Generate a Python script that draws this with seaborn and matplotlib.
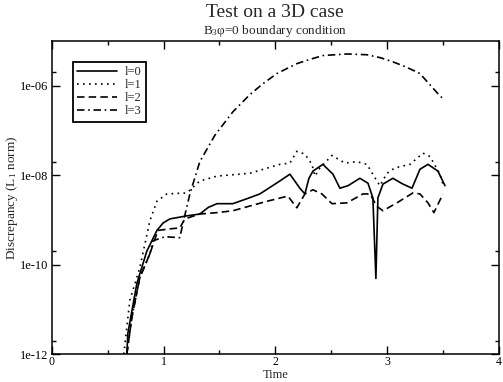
import numpy as np
import pandas as pd
import matplotlib
matplotlib.use("Agg")
import matplotlib.pyplot as plt
import seaborn as sns
from matplotlib.ticker import FixedLocator, FixedFormatter

# values (time, discrepancy)
t_l0 = [0.671, 0.680, 0.761, 0.850, 0.940, 0.995, 1.056, 1.208, 1.324, 1.400, 1.477, 1.620,
        1.750, 1.861, 2.040, 2.130, 2.219, 2.264, 2.300, 2.336, 2.425, 2.515, 2.577, 2.649,
        2.756, 2.828, 2.872, 2.899, 2.917, 2.962, 3.051, 3.141, 3.222, 3.293, 3.365, 3.454,
        3.517]
v_l0 = [1.0e-12, 2.9e-12, 3.8e-11, 2.0e-10, 5.8e-10, 8.5e-10, 1.05e-9, 1.23e-9, 1.35e-9,
        1.9e-9, 2.3e-9, 2.3e-9, 3.0e-9, 3.8e-9, 7.4e-9, 1.05e-8, 5.1e-9, 3.8e-9, 8.5e-9,
        1.23e-8, 1.74e-8, 1.05e-8, 5.1e-9, 5.8e-9, 8.5e-9, 6.6e-9, 3.1e-9, 4.9e-11, 3.1e-9,
        6.3e-9, 8.5e-9, 6.3e-9, 5.1e-9, 1.35e-8, 1.74e-8, 1.23e-8, 5.8e-9]

t_l1 = [0.644, 0.698, 0.787, 0.877, 0.940, 1.029, 1.208, 1.324, 1.477, 1.772, 2.040, 2.130,
        2.192, 2.264, 2.327, 2.354, 2.398, 2.506, 2.622, 2.729, 2.819, 2.908, 2.935, 2.998,
        3.069, 3.204, 3.320, 3.383, 3.472, 3.499]
v_l1 = [1.0e-12, 1.6e-11, 8.5e-11, 9.5e-10, 2.6e-9, 3.8e-9, 4.0e-9, 7.4e-9, 9.5e-9, 1.1e-8,
        1.74e-8, 1.86e-8, 3.4e-8, 2.95e-8, 1.74e-8, 9.5e-9, 1.45e-8, 2.75e-8, 1.86e-8, 2.0e-8,
        1.74e-8, 7.4e-9, 5.8e-9, 1.1e-8, 1.45e-8, 1.74e-8, 3.1e-8, 2.6e-8, 1.05e-8, 6.3e-9]

t_l2 = [0.671, 0.716, 0.787, 0.877, 0.949, 1.056, 1.145, 1.190, 1.324, 1.477, 1.620, 1.924,
        2.112, 2.192, 2.264, 2.336, 2.416, 2.506, 2.640, 2.783, 2.846, 2.908, 2.962, 3.087,
        3.230, 3.293, 3.365, 3.418, 3.499]
v_l2 = [1.0e-12, 6.6e-12, 5.1e-11, 1.74e-10, 5.8e-10, 6.3e-10, 6.6e-10, 1.05e-9, 1.35e-9,
        1.45e-9, 1.6e-9, 2.6e-9, 3.4e-9, 1.86e-9, 3.8e-9, 4.7e-9, 3.8e-9, 2.3e-9, 2.4e-9,
        3.8e-9, 3.8e-9, 2.0e-9, 1.6e-9, 2.4e-9, 4.0e-9, 3.8e-9, 2.4e-9, 1.45e-9, 3.8e-9]

t_l3 = [0.671, 0.716, 0.787, 0.877, 0.904, 1.011, 1.145, 1.172, 1.235, 1.324, 1.459, 1.620,
        1.772, 1.888, 2.013, 2.192, 2.300, 2.425, 2.640, 2.819, 2.940, 3.051, 3.170, 3.293,
        3.454, 3.499]
v_l3 = [1.0e-12, 6.6e-12, 5.1e-11, 1.74e-10, 3.4e-10, 4.2e-10, 4.0e-10, 8.1e-10, 3.8e-9,
        2.0e-8, 7.8e-8, 2.6e-7, 6.3e-7, 1.1e-6, 1.86e-6, 3.1e-6, 3.8e-6, 4.7e-6, 5.1e-6,
        4.9e-6, 4.2e-6, 3.4e-6, 2.6e-6, 1.86e-6, 6.6e-7, 5.1e-7]

labels = ["l=0", "l=1", "l=2", "l=3"]
x_ticks = [0, 1, 2, 3, 4]
y_ticks = [1e-12, 1e-10, 1e-8, 1e-6]
y_tick_labels = ["1e-12", "1e-10", "1e-08", "1e-06"]

sns.set_style("ticks")
plt.rcParams['font.family'] = ['Liberation Serif', 'DejaVu Serif']
plt.rcParams['mathtext.default'] = 'regular'

fig = plt.figure(figsize=(5.03, 3.82), dpi=100)
ax = fig.add_axes([0.103, 0.073, 0.889, 0.820])

series = [(t_l0, v_l0), (t_l1, v_l1), (t_l2, v_l2), (t_l3, v_l3)]
styles = ["-", (0, (1, 2.6)), (0, (4.5, 2.5)), (0, (4.5, 2.2, 1, 2.2))]
for (t, v), lab, ls in zip(series, labels, styles):
    sns.lineplot(x=t, y=v, ax=ax, color="black", linestyle=ls, linewidth=1.2,
                 label=lab, sort=False)

ax.set_yscale("log")
ax.set_xlim(0, 4)
ax.set_ylim(1e-12, 1e-5)

ax.xaxis.set_major_locator(FixedLocator(x_ticks))
ax.xaxis.set_minor_locator(FixedLocator([0.5, 1.5, 2.5, 3.5]))
ax.yaxis.set_major_locator(FixedLocator(y_ticks))
ax.yaxis.set_major_formatter(FixedFormatter(y_tick_labels))
ax.yaxis.set_minor_locator(FixedLocator([2 * y for y in y_ticks]))
ax.yaxis.set_minor_formatter(FixedFormatter([]))

ax.tick_params(which="both", direction="in", top=True, right=True, width=1.0,
               labelsize=9, pad=2.5, color="black", labelcolor="black")
ax.tick_params(axis="x", which="major", labelsize=8.5, pad=1.5)
ax.tick_params(which="major", length=6)
ax.tick_params(which="minor", length=3)
for s in ax.spines.values():
    s.set_linewidth(1.1)
    s.set_color("black")

ax.set_xlabel("Time", fontsize=9)
ax.xaxis.set_label_coords(0.5, -0.047)
ax.set_ylabel("Discrepancy (L$_1$ norm)", fontsize=9.5)
ax.yaxis.set_label_coords(-0.072, 0.5)

fig.text(0.547, 0.966, "Test on a 3D case", ha="center", va="center", fontsize=14)
fig.text(0.547, 0.920, "B$_3$φ=0 boundary condition", ha="center", va="center", fontsize=9.5)

leg = ax.legend(loc="upper left", bbox_to_anchor=(0.047, 0.933), borderaxespad=0,
                fontsize=9, frameon=True, fancybox=False, handlelength=3.2,
                handletextpad=0.6, labelspacing=0.08, borderpad=0.35)
leg.get_frame().set_edgecolor("black")
leg.get_frame().set_linewidth(1.3)
leg.get_frame().set_alpha(1)

fig.savefig("out.png", dpi=100)
